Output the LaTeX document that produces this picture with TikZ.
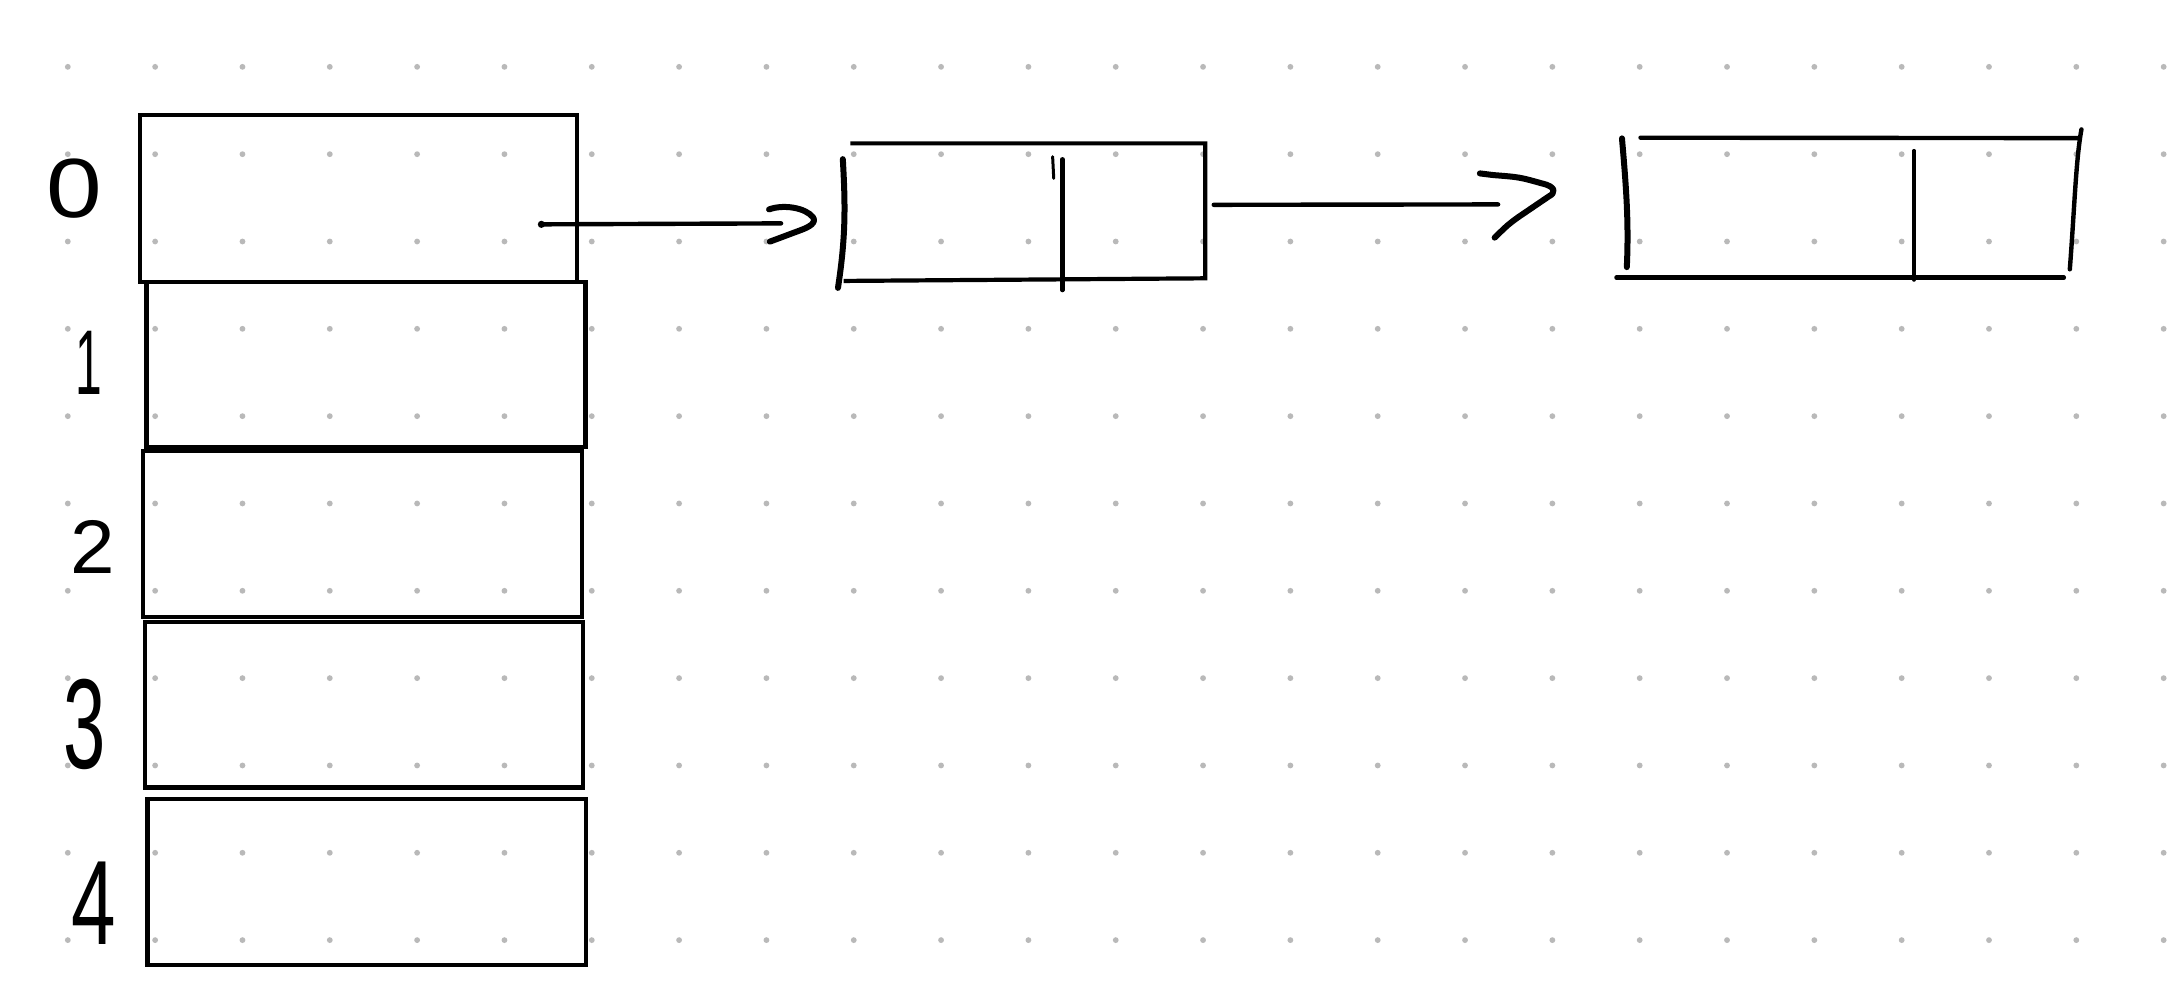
\documentclass[tikz,border=0pt]{standalone}
\usepackage{fontspec}
\setmainfont{Liberation Sans}
\begin{document}
\begin{tikzpicture}[x=1.3839pt,y=-1.3839pt,
  cellline/.style={line width=4.2pt,line join=miter},
  pen/.style={line width=4.4pt,line cap=round,line join=round},
  thickpen/.style={line width=6pt,line cap=round,line join=round},
  griddot/.style={fill=gray!55,draw=none},
  idx/.style={inner sep=0pt,font=\fontsize{80}{80}\selectfont}]
\useasboundingbox (0,0) rectangle (1568,722.6);
\fill[white] (0,0) rectangle (1568,722.6);
% dot grid
\foreach \i in {0,...,24}{
  \foreach \j in {0,...,10}{
    \fill[griddot] ({49+63.1*\i},{48.3+63.1*\j}) circle (2.1);
  }
}
% array cells
\coordinate (c0a) at (101,83.1);  \coordinate (c0b) at (417.2,203.5);
\coordinate (c1a) at (105.8,203.5); \coordinate (c1b) at (423,323);
\coordinate (c2a) at (103.4,325.6); \coordinate (c2b) at (420.6,445.6);
\coordinate (c3a) at (104.9,449.5); \coordinate (c3b) at (421.4,569);
\coordinate (c4a) at (106.6,577.5); \coordinate (c4b) at (423.4,697.5);
\foreach \k in {0,...,4}{ \draw[cellline] (c\k a) rectangle (c\k b); }
% index labels
\node[idx,xscale=1.25,yscale=1.05] (i0) at (54,136.6) {0};
\node[idx,yscale=1.15,xscale=0.6] (i1) at (64,262.4) {1};
\node[idx,yscale=0.95] (i2) at (67,395.5) {2};
\node[idx,yscale=1.6,xscale=0.95] (i3) at (61,523.3) {3};
\node[idx,yscale=1.5] (i4) at (68,652.5) {4};
% first list node
\coordinate (m1) at (609,115);
\coordinate (m2) at (605.5,208);
\coordinate (mtl) at (614.4,103.6);
\coordinate (mtr) at (870.9,103.6);
\coordinate (mbr) at (870.9,201.1);
\coordinate (mbl) at (609.6,203);
\coordinate (md1) at (767.6,115.1);
\coordinate (md2) at (767.6,209.6);
\coordinate (mt1) at (760.6,113.2);
\coordinate (mt2) at (761.4,128.9);
\draw[cellline] (mtl) -- (mtr) -- (mbr) -- (mbl);
\draw[thickpen] (m1) .. controls (611,150) and (611,172) .. (m2);
\draw[pen] (md1) -- (md2);
\draw[pen,line width=3pt] (mt1) -- (mt2);
% second list node
\coordinate (n1) at (1172,100);
\coordinate (n2) at (1175.5,193);
\coordinate (ntl) at (1185.4,99.5);
\coordinate (ntr) at (1502.2,99.8);
\coordinate (nr1) at (1504,93.5);
\coordinate (nr2) at (1495.6,194.6);
\coordinate (nbl) at (1168,200.6);
\coordinate (nbr) at (1491.3,200.6);
\coordinate (nd1) at (1383,108.9);
\coordinate (nd2) at (1383,202.3);
\draw[pen] (ntl) -- (ntr);
\draw[pen] (nbl) -- (nbr);
\draw[thickpen] (n1) .. controls (1175,135) and (1177,160) .. (n2);
\draw[pen] (nr1) .. controls (1500,115) and (1499,150) .. (nr2);
\draw[pen,line width=3.6pt] (nd1) -- (nd2);
% arrow 1
\coordinate (a1s) at (391.2,162.1);
\coordinate (a1e) at (564.4,161.4);
\coordinate (h1a) at (555.7,151.3);
\coordinate (h1b) at (556.3,174.6);
\draw[pen] (a1s) -- (a1e);
\fill (a1s) circle (2.6);
\draw[thickpen] (h1a) .. controls (566,147.5) and (582,150) .. (587.5,157) .. controls (590,161) and (585,164) .. (578,166.5) -- (h1b);
% arrow 2
\coordinate (a2s) at (877,148);
\coordinate (a2e) at (1082.5,147.7);
\coordinate (h2a) at (1069.3,125.3);
\coordinate (h2b) at (1080,171.7);
\draw[pen] (a2s) -- (a2e);
\draw[thickpen] (h2a) -- (1079,126.5) .. controls (1098,128) .. (1114,132.5) .. controls (1125,135) and (1124,139.5) .. (1119,142) -- (1097.5,156.6) .. controls (1090,162) .. (h2b);
\end{tikzpicture}
\end{document}
